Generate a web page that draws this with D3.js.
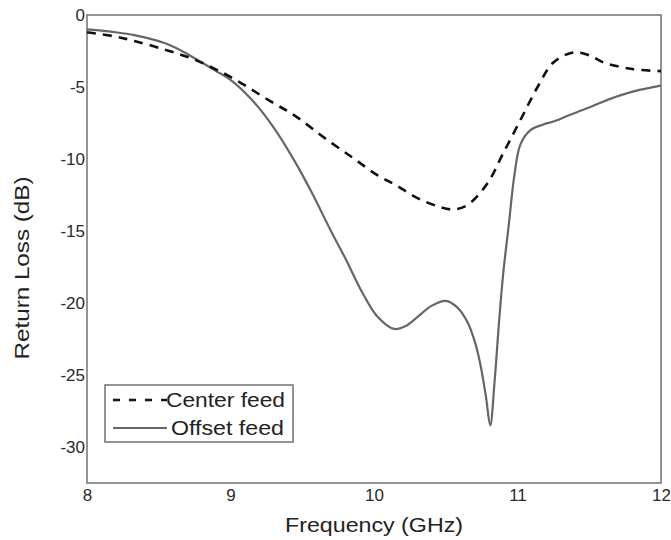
<!DOCTYPE html>
<html>
<head>
<meta charset="utf-8">
<script src="https://cdn.jsdelivr.net/npm/d3@7"></script>
<style>
  html, body { margin: 0; padding: 0; background: #fff; }
  svg { display: block; font-family: "Liberation Sans", Arial, sans-serif; }
</style>
</head>
<body>
<svg id="chart" width="671" height="540"></svg>
<script>
// ---- data ----
const centerFreq = [8.0, 8.2, 8.33, 8.54, 8.75, 9.0, 9.28, 9.45, 9.65, 9.85, 10.02, 10.15, 10.3, 10.45, 10.55, 10.65, 10.79, 10.9, 11.02, 11.14, 11.25, 11.39, 11.5, 11.6, 11.8, 12.0];
const centerLoss = [-1.2, -1.5, -1.8, -2.4, -3.1, -4.3, -6.0, -7.0, -8.5, -9.9, -11.1, -11.8, -12.7, -13.3, -13.5, -13.2, -11.7, -9.6, -7.3, -5.0, -3.3, -2.6, -2.8, -3.3, -3.75, -3.9];

const offsetFreq = [8.0, 8.2, 8.33, 8.54, 8.68, 8.8, 8.9, 9.0, 9.15, 9.3, 9.45, 9.57, 9.7, 9.8, 9.92, 10.02, 10.14, 10.22, 10.3, 10.4, 10.5, 10.58, 10.65, 10.7, 10.74, 10.78, 10.81, 10.84, 10.87, 10.9, 10.94, 10.98, 11.02, 11.09, 11.18, 11.25, 11.35, 11.48, 11.6, 11.71, 11.85, 12.0];
const offsetLoss = [-1.0, -1.2, -1.4, -1.95, -2.6, -3.3, -3.9, -4.5, -5.9, -7.8, -10.2, -12.4, -15.0, -16.9, -19.3, -20.9, -21.8, -21.6, -21.0, -20.2, -19.85, -20.3, -21.3, -22.6, -24.2, -26.5, -28.5, -25.5, -21.5, -18.0, -14.5, -11.0, -9.0, -8.0, -7.6, -7.4, -7.0, -6.5, -6.0, -5.6, -5.2, -4.9];

const xTicks = [8, 9, 10, 11, 12];
const yTicks = [0, -5, -10, -15, -20, -25, -30];
const seriesNames = ["Center feed", "Offset feed"];

// ---- layout ----
const svg = d3.select("#chart");
const L = 87, R = 661, T = 15, B = 483;
const x = d3.scaleLinear().domain([8, 12]).range([L, R]);
const y = d3.scaleLinear().domain([-32.5, 0]).range([B, T]);
const axisColor = "#7a7a7a";

// frame
svg.append("rect").attr("x", L).attr("y", T).attr("width", R - L).attr("height", B - T)
  .attr("fill", "none").attr("stroke", axisColor).attr("stroke-width", 1.6);

// axes
const xAxis = svg.append("g").attr("transform", `translate(0,${B})`)
  .call(d3.axisBottom(x).tickValues(xTicks).tickSize(0).tickPadding(6).tickFormat(d3.format("d")));
const yAxis = svg.append("g").attr("transform", `translate(${L},0)`)
  .call(d3.axisLeft(y).tickValues(yTicks).tickSize(0).tickPadding(2).tickFormat(d => d === 0 ? "0" : String(d)));
[xAxis, yAxis].forEach(g => {
  g.select(".domain").remove();
  g.selectAll("text").attr("font-size", 17).attr("fill", "#2a2a2a")
    .attr("font-family", "Liberation Sans, Arial, sans-serif");
});

// axis labels
svg.append("text").attr("x", (L + R) / 2).attr("y", 532).attr("text-anchor", "middle")
  .attr("font-size", 21).attr("fill", "#222")
  .attr("textLength", 178).attr("lengthAdjust", "spacingAndGlyphs").text("Frequency (GHz)");
svg.append("text").attr("transform", "translate(29,268) rotate(-90)").attr("text-anchor", "middle")
  .attr("font-size", 21).attr("fill", "#222")
  .attr("textLength", 183).attr("lengthAdjust", "spacingAndGlyphs").text("Return Loss (dB)");

// lines
const line = d3.line().x(d => x(d[0])).y(d => y(d[1])).curve(d3.curveCatmullRom.alpha(0.5));
const centerData = centerFreq.map((f, i) => [f, centerLoss[i]]);
const offsetData = offsetFreq.map((f, i) => [f, offsetLoss[i]]);

svg.append("path").datum(offsetData).attr("d", line).attr("fill", "none")
  .attr("stroke", "#666").attr("stroke-width", 2.2);
svg.append("path").datum(centerData).attr("d", line).attr("fill", "none")
  .attr("stroke", "#111").attr("stroke-width", 2.6).attr("stroke-dasharray", "9,7");

// legend
const lg = svg.append("g");
lg.append("rect").attr("x", 105).attr("y", 385).attr("width", 188).attr("height", 57)
  .attr("fill", "#fff").attr("stroke", axisColor).attr("stroke-width", 1.6);
const items = [
  { name: seriesNames[0], y: 400, color: "#111", dash: "7,9", w: 2.4, len: 119 },
  { name: seriesNames[1], y: 428, color: "#666", dash: null, w: 2.2, len: 113 }
];
items.forEach(it => {
  lg.append("line").attr("x1", 113).attr("x2", 167).attr("y1", it.y).attr("y2", it.y)
    .attr("stroke", it.color).attr("stroke-width", it.w).attr("stroke-dasharray", it.dash);
  lg.append("text").attr("x", it.name === seriesNames[0] ? 166 : 171).attr("y", it.y + 7)
    .attr("font-size", 20).attr("fill", "#222")
    .attr("textLength", it.len).attr("lengthAdjust", "spacingAndGlyphs")
    .text(it.name);
});
</script>
</body>
</html>
